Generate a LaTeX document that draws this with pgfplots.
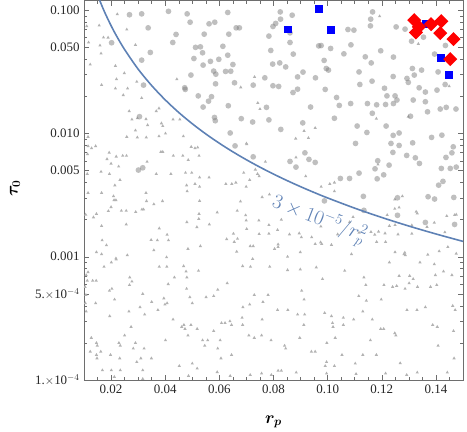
\documentclass[border=0pt]{standalone}
\usepackage{fontspec}
\setmainfont{Liberation Serif}
\usepackage{bm}
\usepackage{pgfplots}
\usepackage{pgfplotstable}
\pgfplotsset{compat=1.18}

\definecolor{curveblue}{RGB}{94,129,181}
\definecolor{framegray}{RGB}{110,110,110}

% gray circles (rp, tau0)
\pgfplotstableread{
x y
0.0268 0.092
0.0313 0.0935
0.0412 0.098
0.0481 0.0935
0.0631 0.096
0.0492 0.080
0.0562 0.0776
0.0583 0.080
0.0662 0.072
0.0337 0.072
0.0440 0.0637
0.0544 0.064
0.0635 0.064
0.0428 0.0548
0.0202 0.0545
0.0512 0.050
0.0530 0.0505
0.0613 0.051
0.0345 0.0455
0.0538 0.0452
0.0631 0.0432
0.0506 0.0406
0.0313 0.0394
0.0567 0.0385
0.0598 0.040
0.0540 0.0359
0.0650 0.0363
0.0579 0.0321
0.0587 0.0303
0.0623 0.0319
0.0642 0.0320
0.0495 0.0298
0.0656 0.0258
0.0586 0.0253
0.0320 0.0247
0.0472 0.0235
0.0474 0.0228
0.0522 0.0202
0.0571 0.0199
0.0560 0.0183
0.0540 0.0164
0.0633 0.0168
0.0305 0.0137
0.0582 0.0135
0.0585 0.0127
0.0640 0.0101
0.0658 0.00794
0.0301 0.00505
0.0317 0.00527
0.0825 0.097
0.0869 0.0912
0.1159 0.0847
0.1166 0.097
0.0826 0.0847
0.0808 0.0782
0.0798 0.0739
0.0674 0.072
0.0783 0.0617
0.0861 0.0656
0.0861 0.0548
0.1075 0.0698
0.1097 0.069
0.1158 0.0747
0.1253 0.0733
0.1310 0.0561
0.0967 0.0514
0.0976 0.0517
0.1011 0.049
0.1086 0.0524
0.0790 0.0472
0.0873 0.0441
0.1060 0.0443
0.1196 0.0469
0.1139 0.0419
0.1161 0.0374
0.0823 0.0374
0.0797 0.0366
0.0845 0.0347
0.0987 0.0392
0.0995 0.0337
0.0909 0.0315
0.0889 0.0288
0.0955 0.0283
0.1003 0.0327
0.1116 0.0316
0.1164 0.0266
0.1242 0.029
0.1313 0.0337
0.1347 0.0327
0.1320 0.0298
0.1293 0.028
0.1298 0.026
0.1408 0.0316
0.1434 0.025
0.0725 0.0247
0.0798 0.0244
0.0819 0.0241
0.0768 0.0283
0.0872 0.0215
0.0889 0.0229
0.0991 0.0228
0.1119 0.025
0.1210 0.0233
0.1219 0.0202
0.1249 0.0202
0.1338 0.0235
0.1361 0.0217
0.1404 0.0225
0.0774 0.0163
0.0937 0.0164
0.1033 0.0196
0.1043 0.0169
0.1085 0.0175
0.1147 0.0175
0.1181 0.0171
0.1214 0.0172
0.1243 0.0175
0.1256 0.0187
0.1316 0.0187
0.1361 0.0181
0.1165 0.0146
0.1306 0.0138
0.1369 0.015
0.1416 0.0158
0.1438 0.0163
0.1474 0.0158
0.0681 0.0132
0.0723 0.0124
0.0783 0.0129
0.0908 0.0122
0.1025 0.0133
0.0827 0.0108
0.1109 0.0115
0.1216 0.0115
0.1145 0.0102
0.1242 0.00966
0.1264 0.0101
0.1384 0.0093
0.1422 0.0097
0.0725 0.00647
0.0916 0.00697
0.0861 0.00594
0.0931 0.00617
0.0954 0.00583
0.0883 0.00534
0.1103 0.00831
0.1234 0.00831
0.1264 0.0080
0.1241 0.00703
0.1292 0.00664
0.1324 0.00635
0.1339 0.00572
0.1314 0.0084
0.1464 0.0078
0.1459 0.00697
0.1437 0.0064
0.1227 0.00554
0.1175 0.00517
0.1116 0.00477
0.1047 0.00432
0.1081 0.00432
0.1183 0.00429
0.1207 0.00462
0.1420 0.00521
0.1453 0.00521
0.1475 0.00534
0.1426 0.00409
0.1410 0.00381
0.1132 0.00309
0.1258 0.00301
0.1371 0.00307
0.1395 0.00294
0.1466 0.00303
0.1185 0.00601
0.1258 0.00217
0.1134 0.00238
0.0988 0.00284
0.1361 0.0019
0.1469 0.00183
0.1286 0.0703
0.1354 0.0605
0.1435 0.0518
0.1243 0.0417
0.1395 0.0441
}\circles

% gray triangles (rp, tau0)
\pgfplotstableread{
x y
0.0223 0.093
0.0156 0.0753
0.0110 0.0743
0.0258 0.0698
0.0172 0.0601
0.0189 0.060
0.0117 0.0548
0.0159 0.0518
0.0290 0.0524
0.0163 0.0446
0.0123 0.0363
0.0216 0.0354
0.0249 0.0309
0.0220 0.0276
0.0295 0.0263
0.0165 0.0248
0.0216 0.0232
0.0261 0.0232
0.0245 0.0205
0.0313 0.0194
0.0443 0.0276
0.0377 0.016
0.0267 0.0152
0.0277 0.013
0.0297 0.0133
0.0329 0.0131
0.0367 0.0152
0.0335 0.0117
0.0386 0.0121
0.0391 0.0115
0.0429 0.013
0.0454 0.013
0.0290 0.0106
0.0258 0.0094
0.0297 0.0093
0.0330 0.0093
0.0377 0.0095
0.0467 0.0095
0.0401 0.0100
0.0115 0.0094
0.0115 0.0079
0.0143 0.0079
0.0128 0.0076
0.0113 0.0068
0.0193 0.0070
0.0185 0.0062
0.0219 0.0065
0.0243 0.0066
0.0257 0.0066
0.0200 0.0057
0.0228 0.0054
0.0194 0.0047
0.0163 0.0049
0.0112 0.0047
0.0333 0.0059
0.0384 0.0071
0.0391 0.0071
0.0430 0.0066
0.0465 0.0066
0.0485 0.0061
0.0525 0.0066
0.0520 0.0077
0.0496 0.0078
0.0510 0.0076
0.0367 0.0047
0.0421 0.0047
0.0475 0.0048
0.0498 0.0048
0.0527 0.0044
0.0562 0.0044
0.0624 0.0039
0.0646 0.0039
0.0661 0.0040
0.0233 0.0042
0.0214 0.0038
0.0165 0.0033
0.0115 0.0033
0.0209 0.0031
0.0329 0.0033
0.0479 0.0038
0.0510 0.0039
0.0527 0.0037
0.0481 0.0034
0.0390 0.00283
0.0358 0.00267
0.0331 0.00283
0.0314 0.00242
0.0320 0.00242
0.0291 0.00231
0.0256 0.00236
0.0238 0.00236
0.0200 0.00253
0.0190 0.00235
0.0146 0.00223
0.0135 0.00209
0.0106 0.0022
0.0165 0.00178
0.0256 0.00183
0.0167 0.00136
0.0183 0.00124
0.0146 0.00109
0.0165 0.00105
0.0218 0.00097
0.0260 0.00103
0.0378 0.0017
0.0348 0.00137
0.0371 0.00136
0.0407 0.00151
0.0412 0.00136
0.0358 0.00113
0.0405 0.00099
0.0484 0.00116
0.0530 0.00122
0.0517 0.00174
0.0480 0.00191
0.0524 0.00203
0.0525 0.00223
0.0563 0.00183
0.0592 0.00229
0.0627 0.00139
0.0652 0.00154
0.0667 0.0014
0.0666 0.00236
0.0697 0.00217
0.0699 0.00197
0.0701 0.00168
0.0746 0.00197
0.0747 0.00153
0.0783 0.00181
0.0655 0.00132
0.0714 0.00122
0.0725 0.00122
0.0664 0.00110
0.0723 0.00096
0.0678 0.00281
0.0758 0.00305
0.0701 0.0082
0.0770 0.0059
0.0690 0.0048
0.0741 0.0047
0.0747 0.0045
0.0699 0.0037
0.0712 0.0042
0.0785 0.0032
0.0733 0.0051
0.0211 0.00288
0.0218 0.00288
0.0527 0.00284
0.0201 0.0009
0.0219 0.00095
0.0174 0.00083
0.0378 0.00083
0.0406 0.00083
0.0468 0.00084
0.0477 0.00076
0.0523 0.00077
0.0115 0.00075
0.0108 0.00071
0.0112 0.00064
0.0132 0.00064
0.0145 0.00064
0.0269 0.00068
0.0277 0.00063
0.0268 0.00059
0.0434 0.00068
0.0411 0.0006
0.0194 0.00053
0.0203 0.00055
0.0213 0.00045
0.0104 0.00057
0.0107 0.00049
0.0105 0.00042
0.0143 0.00042
0.0108 0.00036
0.0317 0.00050
0.0350 0.00043
0.0395 0.00046
0.0399 0.00041
0.0407 0.00042
0.0307 0.00039
0.0324 0.00034
0.0266 0.00036
0.0373 0.00037
0.0195 0.00033
0.0429 0.00031
0.0480 0.00068
0.0479 0.00055
0.0491 0.00047
0.0500 0.00042
0.0469 0.00028
0.0484 0.00023
0.0473 0.00026
0.0461 0.00027
0.0495 0.00028
0.0518 0.00026
0.0538 0.00021
0.0546 0.00019
0.0557 0.00021
0.0579 0.00025
0.0608 0.00029
0.0621 0.00029
0.0639 0.00030
0.0594 0.00018
0.0603 0.00021
0.0606 0.00015
0.0127 0.00022
0.0123 0.00017
0.0146 0.00020
0.0149 0.00019
0.0162 0.00017
0.0146 0.00016
0.0148 0.00015
0.0229 0.00020
0.0234 0.00019
0.0250 0.00023
0.0274 0.00027
0.0290 0.00020
0.0282 0.00018
0.0322 0.00018
0.0198 0.00016
0.0232 0.00015
0.0310 0.00015
0.0295 0.00014
0.0349 0.00015
0.0168 0.00012
0.0201 0.00012
0.0234 0.00012
0.0212 0.000106
0.0317 0.00012
0.0401 0.00021
0.0500 0.000136
0.0518 0.000124
0.0452 0.00013
0.0486 0.000108
0.0592 0.000116
0.0640 0.000108
0.0317 0.000102
0.0594 0.00054
0.0551 0.00047
0.0579 0.00048
0.0629 0.00061
0.0815 0.00165
0.0783 0.00154
0.0859 0.00152
0.0895 0.00155
0.0817 0.0012
0.0852 0.0010
0.0899 0.00109
0.0954 0.00127
0.0978 0.00127
0.1014 0.00125
0.1037 0.00152
0.1081 0.00191
0.1116 0.00157
0.1160 0.00159
0.1174 0.00151
0.1212 0.00155
0.1260 0.00152
0.1311 0.00154
0.1331 0.00225
0.1440 0.00214
0.1475 0.0022
0.1214 0.00132
0.1285 0.00108
0.1249 0.00109
0.1228 0.0009
0.1287 0.00103
0.1341 0.0009
0.1370 0.00104
0.1412 0.00111
0.1444 0.0012
0.1475 0.00106
0.1394 0.00087
0.0686 0.00084
0.0715 0.00083
0.0786 0.00083
0.0852 0.00078
0.0899 0.00079
0.0958 0.00082
0.0981 0.00066
0.1063 0.00077
0.1134 0.00068
0.1141 0.00059
0.1115 0.00048
0.1143 0.00044
0.1208 0.00059
0.1240 0.00057
0.1255 0.00058
0.1286 0.00055
0.1332 0.00057
0.1380 0.00057
0.1403 0.00059
0.1264 0.0007
0.1303 0.0007
0.1316 0.00066
0.1301 0.00061
0.1398 0.00071
0.1428 0.00076
0.1459 0.00071
0.1293 0.00037
0.1330 0.00037
0.1361 0.00039
0.1462 0.0004
0.1471 0.00037
0.1388 0.00028
0.1405 0.00027
0.1465 0.00025
0.1408 0.00019
0.1467 0.00015
0.1331 0.000115
0.1442 0.000115
0.1165 0.00031
0.1196 0.00026
0.1207 0.00026
0.1248 0.00024
0.1252 0.00023
0.1158 0.00021
0.1130 0.00016
0.1180 0.00016
0.1102 0.000136
0.1105 0.000112
0.1214 0.000113
0.1268 0.000137
0.1058 0.00032
0.1096 0.00031
0.1058 0.00028
0.0989 0.00035
0.1014 0.00033
0.1018 0.00029
0.1020 0.00027
0.1028 0.00022
0.0997 0.0002
0.1053 0.00016
0.0996 0.00014
0.0991 0.00013
0.1025 0.00013
0.0996 0.000113
0.0940 0.00017
0.0954 0.00017
0.0897 0.00022
0.0841 0.00019
0.0845 0.00018
0.0915 0.00034
0.0912 0.00028
0.0889 0.00034
0.0853 0.00037
0.0815 0.00037
0.0904 0.00053
0.0913 0.00045
0.0780 0.00049
0.0761 0.00043
0.0729 0.00049
0.0687 0.00039
0.0712 0.00041
0.0684 0.00032
0.0686 0.00028
0.0758 0.00031
0.0709 0.00023
0.0729 0.00022
0.0756 0.00023
0.0645 0.00028
0.0645 0.00016
0.0756 0.000113
0.0714 0.00011
0.0792 0.00011
0.0817 0.000119
0.0829 0.000119
0.0884 0.000115
0.0791 0.00021
0.1130 0.00036
0.1198 0.00045
0.1292 0.00011
0.1249 0.00181
0.1228 0.00178
0.1188 0.0016
0.1394 0.00189
0.0882 0.0091
0.0913 0.0105
0.0976 0.0037
0.1008 0.0039
0.1025 0.0040
0.1025 0.0034
0.0883 0.0064
0.0919 0.0045
0.0829 0.0020
0.0903 0.00144
0.0941 0.00144
0.0974 0.00131
0.1094 0.0021
0.1220 0.00218
0.1248 0.00292
0.1264 0.00251
0.1248 0.00245
0.1327 0.00232
0.1311 0.0018
0.1367 0.00175
0.1433 0.00158
0.1469 0.00218
0.1282 0.00105
0.1088 0.00105
0.1181 0.00132
0.0975 0.00176
0.0804 0.00116
0.0817 0.00126
0.1192 0.0895
0.1335 0.0534
0.0679 0.0237
0.0730 0.0288
0.0742 0.0177
0.0750 0.0158
0.0954 0.0111
0.0700 0.0083
0.0929 0.0092
0.1298 0.0137
0.1180 0.0132
0.1186 0.0056
0.1449 0.0242
0.1276 0.0031
}\triangles

\begin{document}
\begin{tikzpicture}
\begin{axis}[
    name=ax,
    scale only axis,
    width=379bp, height=379.5bp,
    xmin=0.01, xmax=0.15,
    ymode=log, ymin=1e-4, ymax=0.12,
    xtick={0.02,0.04,0.06,0.08,0.10,0.12,0.14},
    xticklabels={0.02,0.04,0.06,0.08,0.10,0.12,0.14},
    minor xtick={0.015,0.025,0.03,0.035,0.045,0.05,0.055,0.065,0.07,0.075,0.085,0.09,0.095,0.105,0.11,0.115,0.125,0.13,0.135,0.145},
    ytick={1e-4,5e-4,1e-3,5e-3,0.01,0.05,0.1},
    yticklabels={1.$\times$10$^{-4}$,5.$\times$10$^{-4}$,0.001,0.005,0.010,0.050,0.100},
    minor ytick={2e-4,3e-4,4e-4,6e-4,7e-4,8e-4,9e-4,2e-3,3e-3,4e-3,6e-3,7e-3,8e-3,9e-3,0.02,0.03,0.04,0.06,0.07,0.08,0.09},
    scaled x ticks=false,
    tick align=inside,
    major tick length=5bp,
    minor tick length=3bp,
    axis line style={framegray, line width=0.8pt},
    every tick/.style={framegray, line width=0.5pt},
    ticklabel style={font=\fontsize{13}{13}\selectfont, text=black!85},
    xticklabel style={yshift=-1bp},
    yticklabel style={xshift=-1bp},
    xlabel={$\bm{r_p}$},
    ylabel={$\bm{\tau_0}$},
    xlabel style={at={(axis description cs:0.5,-0.11)}, anchor=center, font=\fontsize{17}{17}\selectfont},
    ylabel style={at={(axis description cs:-0.182,0.505)}, anchor=center, font=\fontsize{17}{17}\selectfont},
    clip marker paths=true,
]
\addplot[only marks, color=black!30, mark=triangle*, mark size=1.9pt,
    mark options={fill=black!30, draw opacity=0}] table {\triangles};
\addplot[only marks, color=black!50, mark=*, mark size=2.9pt,
    mark options={fill=black!50, fill opacity=0.5, draw opacity=0}] table {\circles};
\addplot[curveblue, line width=1.6pt, smooth] coordinates {
    (0.0158,0.1202) (0.017,0.1038) (0.018,0.0926) (0.02,0.075) (0.022,0.0620)
    (0.025,0.048) (0.03,0.0333) (0.035,0.02449) (0.04,0.01875) (0.045,0.01481)
    (0.05,0.012) (0.055,0.009917) (0.06,0.008333) (0.065,0.0071) (0.07,0.006122)
    (0.075,0.005333) (0.08,0.0046875) (0.085,0.004152) (0.09,0.003704)
    (0.095,0.003324) (0.10,0.003) (0.11,0.002479) (0.12,0.002083)
    (0.13,0.001775) (0.14,0.001531) (0.15,0.001333)
};
\node[rotate=-21, text=curveblue, font=\fontsize{22}{22}\selectfont]
    at (axis cs:0.0968,0.00198) {$3\times10^{-5}/r_p^2$};
\addplot[only marks, color=blue, mark=square*, mark size=4pt,
    mark options={fill=blue, draw opacity=0}] coordinates {
    (0.0967,0.1015) (0.0853,0.0698) (0.1013,0.0686)
    (0.1365,0.0767) (0.1418,0.0409) (0.1447,0.0298)
};
\addplot[only marks, color=red, mark=square*, mark size=5pt,
    mark options={fill=red, draw opacity=0, rotate=45}] coordinates {
    (0.1320,0.0831) (0.1337,0.0733) (0.1326,0.0661) (0.1382,0.0771)
    (0.1420,0.0816) (0.1416,0.0652) (0.1465,0.0583) (0.1453,0.0401)
};
\end{axis}
\pgfresetboundingbox
\path ([shift={(-84bp,-52bp)}]ax.south west) rectangle ([shift={(4bp,0.5bp)}]ax.north east);
\end{tikzpicture}
\end{document}
